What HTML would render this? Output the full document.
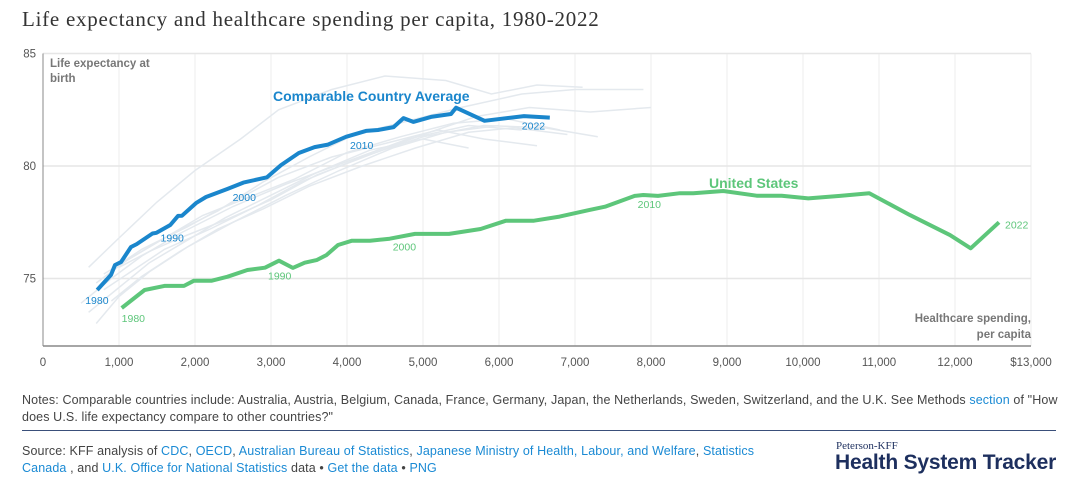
<!DOCTYPE html>
<html><head><meta charset="utf-8">
<style>
body{margin:0;background:#fff;width:1080px;height:484px;overflow:hidden;font-family:"Liberation Sans",sans-serif;position:relative}
.t{position:absolute;white-space:nowrap}
a{color:#1a8ad4;text-decoration:none}
</style></head><body>
<div class="t" style="left:22px;top:7px;font-family:'Liberation Serif',serif;font-size:21px;letter-spacing:0.75px;color:#333">Life expectancy and healthcare spending per capita, 1980-2022</div>
<svg id="chart" width="1080" height="380" style="position:absolute;left:0;top:0" font-family="Liberation Sans, sans-serif"></svg>
<div class="t" style="left:22px;top:392px;font-size:12.5px;letter-spacing:0.12px;color:#444;line-height:17px">Notes: Comparable countries include: Australia, Austria, Belgium, Canada, France, Germany, Japan, the Netherlands, Sweden, Switzerland, and the U.K. See Methods <a>section</a> of "How<br>does U.S. life expectancy compare to other countries?"</div>
<div style="position:absolute;left:22px;top:430px;width:1034px;height:1px;background:#3a4f7a"></div>
<div class="t" style="left:22px;top:443px;font-size:12.5px;letter-spacing:0.12px;color:#444;line-height:17px">Source: KFF analysis of <a>CDC</a>, <a>OECD</a>, <a>Australian Bureau of Statistics</a>, <a>Japanese Ministry of Health, Labour, and Welfare</a>, <a>Statistics</a><br><a>Canada</a> , and <a>U.K. Office for National Statistics</a> data • <a>Get the data</a> • <a>PNG</a></div>
<div class="t" style="left:836px;top:440px;font-size:11px;font-family:'Liberation Serif',serif;color:#1d2f5e">Peterson-KFF</div>
<div class="t" style="left:835px;top:451px;font-size:21px;font-weight:bold;color:#1d2f5e;letter-spacing:-0.2px">Health System Tracker</div>
<script>
const xTicks=[0,1000,2000,3000,4000,5000,6000,7000,8000,9000,10000,11000,12000,13000];
const xTickLabels=["0","1,000","2,000","3,000","4,000","5,000","6,000","7,000","8,000","9,000","10,000","11,000","12,000","$13,000"];
const yTicks=[75,80,85];
const avgSpend=[713,895,947,1026,1158,1233,1441,1493,1675,1776,1829,2013,2145,2429,2637,2947,3131,3366,3574,3750,3987,4250,4408,4613,4743,4873,5105,5368,5434,5809,6329,6668];
const avgLife=[74.49,75.16,75.6,75.73,76.4,76.53,77.0,77.03,77.38,77.78,77.79,78.35,78.62,78.98,79.26,79.5,80.04,80.58,80.84,80.95,81.3,81.56,81.6,81.73,82.13,81.96,82.18,82.31,82.59,82.01,82.22,82.15];
const usSpend=[1035,1337,1597,1855,1987,2221,2429,2689,2921,3105,3287,3444,3600,3729,3882,4066,4303,4562,4895,5342,5758,6092,6461,6797,7184,7395,7785,7899,8092,8382,8557,8951,9390,9720,10070,10487,10872,11408,11934,12207,12579];
const usLife=[73.69,74.49,74.67,74.67,74.9,74.9,75.08,75.38,75.48,75.79,75.47,75.7,75.82,76.04,76.49,76.68,76.68,76.77,76.98,76.98,77.2,77.57,77.57,77.75,78.04,78.19,78.67,78.71,78.67,78.79,78.79,78.89,78.68,78.68,78.56,78.67,78.79,77.82,76.93,76.34,77.5];
const bgSpend=[
[600,1000,1500,2000,2600,3100,3800,4500,5300,5900,6500,7100],
[800,1200,1700,2300,2900,3500,4100,4800,5500,6300,7000,7900],
[500,900,1300,1800,2500,3200,4000,4800,5600,6300],
[700,1100,1600,2100,2700,3300,4000,4700,5400,6100,6800],
[900,1300,1900,2500,3100,3800,4500,5200,5800,6500],
[600,1000,1400,1900,2400,3000,3600,4300,5000,5600],
[800,1200,1600,2200,2800,3400,4200,5000,5800,6600,7300],
[1000,1400,1800,2400,3000,3600,4300,5000,5700,6400,7200,8000],
[700,1000,1400,1900,2500,3200,3900,4600,5300,6000],
[900,1300,1800,2300,2900,3500,4200,4900,5600,6200,6900]];
const bgLife=[
[75.5,76.8,78.4,79.8,81.2,82.5,83.4,84.0,83.8,83.2,83.6,83.5],
[75.2,76.0,77.0,78.0,79.3,80.4,81.4,82.0,82.6,83.2,83.4,83.4],
[73.9,75.0,76.0,77.0,78.2,79.2,80.2,81.2,81.8,81.6],
[74.8,75.8,76.8,77.8,78.6,79.4,80.6,81.3,81.9,82.1,81.6],
[75.4,76.3,77.3,78.4,79.5,80.4,81.0,81.6,81.2,80.9],
[73.5,74.6,75.7,76.7,77.7,78.7,79.7,80.7,81.2,80.8],
[74.5,75.4,76.3,77.2,78.2,79.3,80.4,81.3,81.8,81.7,81.3],
[75.5,76.2,76.8,77.6,78.5,79.6,80.5,81.4,82.2,82.6,82.4,82.6],
[73.0,74.2,75.3,76.4,77.5,78.7,79.8,80.8,81.5,81.8],
[74.0,75.1,76.2,77.2,78.1,79.1,80.0,80.8,81.5,81.7,81.4]];
const avgLabels=[[713,"1980"],[1441,"1990"],[2429,"2000"],[3987,"2010"],[6668,"2022"]];
const usLabels=[[1035,"1980"],[2921,"1990"],[4562,"2000"],[7785,"2010"],[12579,"2022"]];
const X=v=>43+v*0.076, Y=v=>53.5+(85-v)*22.5;
const svg=document.getElementById('chart'),NS='http://www.w3.org/2000/svg';
function mk(t,a,txt){const e=document.createElementNS(NS,t);for(const k in a)e.setAttribute(k,a[k]);if(txt)e.textContent=txt;svg.appendChild(e);return e;}
xTicks.forEach((v,i)=>{
 const g=mk('line',{x1:X(v),x2:X(v),y1:Y(85),y2:Y(72),stroke:'#eeeeee','stroke-width':1});
 
 
 const t=mk('text',{x:X(v),y:366,'text-anchor':'middle','font-size':11.5,fill:'#555'},xTickLabels[i]);
 
 
});
yTicks.forEach(v=>{
 const g=mk('line',{x1:X(0),x2:X(13000),y1:Y(v),y2:Y(v),stroke:'#e6e6e6','stroke-width':1.5});
 
 
 const t=mk('text',{x:36,y:Y(v)+4,'text-anchor':'end','font-size':11.5,fill:'#555'},String(v));
 
 
});
const ax=mk('line',{x1:X(0),x2:X(13000),y1:Y(72),y2:Y(72),stroke:'#888','stroke-width':1.5});


const ay=mk('line',{x1:X(0),x2:X(0),y1:Y(85),y2:Y(72),stroke:'#888','stroke-width':1});


const pts=(xs,ys)=>xs.map((v,i)=>X(v).toFixed(1)+','+Y(ys[i]).toFixed(1)).join(' ');
bgSpend.forEach((s,i)=>{
 const p=mk('polyline',{points:pts(s,bgLife[i]),fill:'none',stroke:'#e4e9ee','stroke-width':1.5});
 
 
});
const pa=mk('polyline',{points:pts(avgSpend,avgLife),fill:'none',stroke:'#1a86cc','stroke-width':4,'stroke-linejoin':'round'});


const pu=mk('polyline',{points:pts(usSpend,usLife),fill:'none',stroke:'#5dc67a','stroke-width':4,'stroke-linejoin':'round'});


avgLabels.forEach(([s,l],i)=>{
 const j=avgSpend.indexOf(s);const off=[[-12,14],[8,8],[5,12],[4,12],[-28,12]][i];
 const t=mk('text',{x:X(s)+off[0],y:Y(avgLife[j])+off[1],'font-size':10.5,fill:'#1a86cc'},l);
 
 
});
usLabels.forEach(([s,l],i)=>{
 const j=usSpend.indexOf(s);const off=[[0,14],[3,12],[3,12],[3,12],[6,6]][i];
 const t=mk('text',{x:X(s)+off[0],y:Y(usLife[j])+off[1],'font-size':10.5,fill:'#5dc67a'},l);
 
 
});
function lab(x,y,txt,o,name){const t=mk('text',Object.assign({x:x,y:y},o),txt);}
lab(273,101,'Comparable Country Average',{'font-size':14,'font-weight':'bold',fill:'#1a86cc'},'avg-series-label');
lab(709,188,'United States',{'font-size':14,'font-weight':'bold',fill:'#5dc67a'},'us-series-label');
lab(50,67,'Life expectancy at',{'font-size':11.5,'font-weight':'bold',fill:'#777'},'y-axis-title');
lab(50,82,'birth',{'font-size':11.5,'font-weight':'bold',fill:'#777'},'y-axis-title-2');
lab(1031,322,'Healthcare spending,',{'font-size':11.5,'font-weight':'bold',fill:'#777','text-anchor':'end'},'x-axis-title');
lab(1031,338,'per capita',{'font-size':11.5,'font-weight':'bold',fill:'#777','text-anchor':'end'},'x-axis-title-2');
</script>
</body></html>
